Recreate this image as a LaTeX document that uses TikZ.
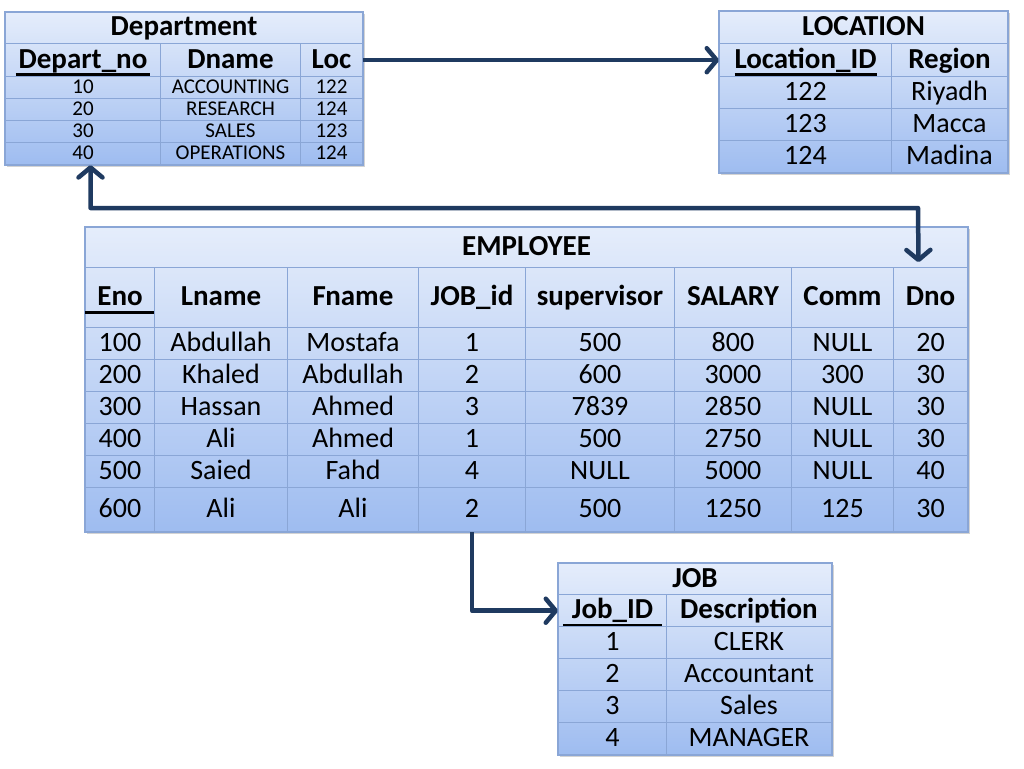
\documentclass[tikz,border=0pt]{standalone}
\usepackage{fontspec}
\setmainfont{Carlito}
\usetikzlibrary{arrows.meta,matrix,positioning,fit,backgrounds,shadows}

\definecolor{celltop}{RGB}{229,237,251}
\definecolor{cellbot}{RGB}{158,188,240}
\definecolor{gridline}{RGB}{138,166,214}
\definecolor{linkblue}{RGB}{31,58,96}

\newcommand{\hfont}{\fontsize{29}{32}\selectfont\bfseries}
\newcommand{\bfont}{\fontsize{28}{31}\selectfont}
\newcommand{\sfont}{\fontsize{21}{23}\selectfont}
% primary key: thick rule under the name
\newcommand{\pkey}[2][2pt]{\setbox0=\hbox{#2}\rlap{\kern-#1\rule[-8pt]{\dimexpr\wd0+#1+#1\relax}{3pt}}\box0}

\tikzset{
  cell/.style={draw=gridline, line width=1pt, anchor=center, inner sep=0pt,
               text height=21pt, text depth=5pt},
  ttl/.style={cell, font=\hfont, anchor=north west},
  tbl/.style={matrix of nodes, inner sep=0pt, column sep=-1pt, row sep=-1pt,
              nodes={cell}},
  bg/.style={inner sep=0pt, draw=gridline, line width=1.5pt,
             top color=celltop, bottom color=cellbot,
             drop shadow={shadow xshift=2pt, shadow yshift=-2pt, opacity=0.35}},
  link/.style={draw=linkblue, line width=4.5pt, line join=round}
}

\begin{document}
\begin{tikzpicture}[x=1pt,y=-1pt,>={Straight Barb[length=10pt,width=24pt,round]}]
  \useasboundingbox (0,0) rectangle (1024,768);

  % Department
  \node[ttl, minimum width=357pt, minimum height=31pt] (dtitle) at (5,12) {Department};
  \matrix[tbl, below=-1pt of dtitle,
          nodes={minimum height=22pt, font=\sfont, text height=15pt, text depth=4pt},
          row 1/.style={nodes={minimum height=33pt, font=\hfont, text height=21pt, text depth=5pt}},
          column 1/.style={nodes={minimum width=155pt}},
          column 2/.style={nodes={minimum width=140pt}},
          column 3/.style={nodes={minimum width=62pt}}] (dept) {
    \pkey[3pt]{Depart\_no} & Dname      & Loc \\
    10                     & ACCOUNTING & 122 \\
    20                     & RESEARCH   & 124 \\
    30                     & SALES      & 123 \\
    40                     & OPERATIONS & 124 \\
  };

  % LOCATION
  \node[ttl, minimum width=288pt, minimum height=32pt] (ltitle) at (719,11) {LOCATION};
  \matrix[tbl, below=-1pt of ltitle,
          nodes={minimum height=32pt, font=\bfont},
          row 1/.style={nodes={minimum height=33pt, font=\hfont}},
          column 1/.style={nodes={minimum width=172pt}},
          column 2/.style={nodes={minimum width=116pt}}] (loc) {
    \pkey[0pt]{Location\_ID} & Region \\
    122                      & Riyadh \\
    123                      & Macca  \\
    124                      & Madina \\
  };

  % EMPLOYEE
  \node[ttl, minimum width=882pt, minimum height=40pt] (etitle) at (85,227) {EMPLOYEE};
  \matrix[tbl, below=-1pt of etitle,
          nodes={minimum height=32pt, font=\bfont},
          row 1/.style={nodes={minimum height=60pt, font=\hfont}},
          row 7/.style={nodes={minimum height=44pt}},
          column 1/.style={nodes={minimum width=69pt}},
          column 2/.style={nodes={minimum width=133pt}},
          column 3/.style={nodes={minimum width=131pt}},
          column 4/.style={nodes={minimum width=107pt}},
          column 5/.style={nodes={minimum width=149pt}},
          column 6/.style={nodes={minimum width=117pt}},
          column 7/.style={nodes={minimum width=102pt}},
          column 8/.style={nodes={minimum width=74pt}}] (emp) {
    \pkey[12pt]{Eno} & Lname    & Fname    & JOB\_id & supervisor & SALARY & Comm & Dno \\
    100              & Abdullah & Mostafa  & 1       & 500        & 800    & NULL & 20  \\
    200              & Khaled   & Abdullah & 2       & 600        & 3000   & 300  & 30  \\
    300              & Hassan   & Ahmed    & 3       & 7839       & 2850   & NULL & 30  \\
    400              & Ali      & Ahmed    & 1       & 500        & 2750   & NULL & 30  \\
    500              & Saied    & Fahd     & 4       & NULL       & 5000   & NULL & 40  \\
    600              & Ali      & Ali      & 2       & 500        & 1250   & 125  & 30  \\
  };

  % JOB
  \node[ttl, minimum width=273pt, minimum height=31pt] (jtitle) at (558,563) {JOB};
  \matrix[tbl, below=-1pt of jtitle,
          nodes={minimum height=32pt, font=\bfont},
          row 1/.style={nodes={minimum height=32pt, font=\hfont}},
          column 1/.style={nodes={minimum width=108pt}},
          column 2/.style={nodes={minimum width=165pt}}] (job) {
    \pkey[9pt]{Job\_ID} & Description \\
    1                   & CLERK       \\
    2                   & Accountant  \\
    3                   & Sales       \\
    4                   & MANAGER     \\
  };

  \begin{scope}[on background layer]
    \node[bg, fit=(dtitle)(dept)] {};
    \node[bg, fit=(ltitle)(loc)]  {};
    \node[bg, fit=(etitle)(emp)]  {};
    \node[bg, fit=(jtitle)(job)]  {};
  \end{scope}

  \coordinate (turn) at (918,208);
  \draw[link,->]  (dept-1-3.east) -- (loc-1-1.west);
  \draw[link,<->] ([xshift=7.5pt]dept-5-1.south) |- (turn) -- ([xshift=-12pt,yshift=5pt]emp-1-8.north);
  \draw[link,->]  (emp-7-4.south) |- (job-1-1.west);
\end{tikzpicture}
\end{document}
